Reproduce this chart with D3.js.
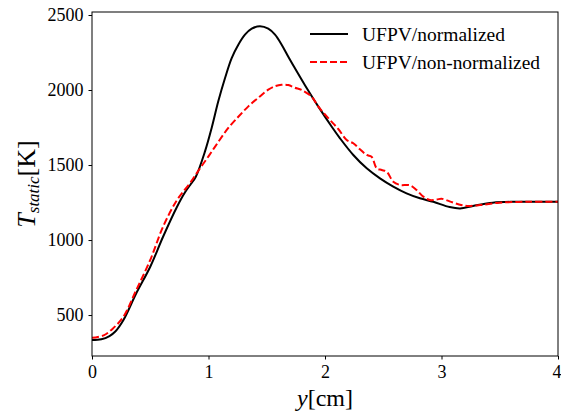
<!DOCTYPE html>
<html><head><meta charset="utf-8">
<script src="https://cdn.jsdelivr.net/npm/d3@7"></script>
<style>
html,body{margin:0;padding:0;background:#fff;}
svg{display:block;}
text{font-family:"Liberation Serif","Times New Roman",serif;fill:#000;}
</style></head>
<body>
<svg id="chart" width="561" height="414"></svg>
<script>
// ---- data ----
const normX = [0,0.08,0.15,0.2,0.27,0.38,0.5,0.61,0.73,0.8,0.85,0.89,0.97,1.027,1.084,1.142,1.199,1.256,1.313,1.371,1.442,1.513,1.571,1.628,1.685,1.742,1.8,1.828,1.943,2.058,2.129,2.243,2.358,2.472,2.586,2.70,2.815,2.93,3.07,3.16,3.27,3.44,3.63,4.0];
const normT = [333,338,360,390,467,645,822,1022,1222,1320,1375,1420,1591,1747,1925,2080,2213,2302,2369,2409,2425,2409,2369,2302,2222,2145,2068,2032,1889,1755,1678,1567,1478,1411,1356,1311,1278,1255,1220,1211,1227,1249,1255,1255];
const nonX = [0,0.1,0.18,0.27,0.38,0.5,0.61,0.73,0.84,0.92,1.0,1.085,1.17,1.26,1.342,1.43,1.513,1.57,1.628,1.685,1.742,1.8,1.886,1.943,2.03,2.114,2.186,2.243,2.30,2.358,2.40,2.444,2.487,2.53,2.586,2.644,2.73,2.787,2.844,2.90,2.96,3.0,3.07,3.15,3.22,3.33,3.5,3.75,4.0];
const nonT = [348,365,411,489,667,867,1089,1267,1378,1470,1558,1655,1747,1825,1891,1950,2002,2025,2035,2033,2015,2000,1955,1889,1811,1740,1667,1645,1605,1567,1555,1478,1467,1455,1389,1367,1365,1333,1289,1267,1270,1275,1258,1237,1227,1233,1249,1255,1255];
const xTicks = [0,1,2,3,4];
const yTicks = [500,1000,1500,2000,2500];
const seriesNames = ["UFPV/normalized","UFPV/non-normalized"];

// ---- layout ----
const L=92, R=558, T=12, B=356;
const svg = d3.select("#chart");
const x = d3.scaleLinear().domain([0,4]).range([L,R]);
const y = d3.scaleLinear().domain([227,2520]).range([B,T]);

const line = d3.line().x(d=>x(d[0])).y(d=>y(d[1])).curve(d3.curveCatmullRom.alpha(0.5));

svg.append("clipPath").attr("id","c").append("rect").attr("x",L).attr("y",T).attr("width",R-L).attr("height",B-T);
const g = svg.append("g").attr("clip-path","url(#c)");

g.append("path").datum(normX.map((v,i)=>[v,normT[i]]))
  .attr("d",line).attr("fill","none").attr("stroke","#000").attr("stroke-width",2);
g.append("path").datum(nonX.map((v,i)=>[v,nonT[i]]))
  .attr("d",line).attr("fill","none").attr("stroke","#ff0000").attr("stroke-width",2)
  .attr("stroke-dasharray","7,3");

// axes
const xAxis = d3.axisBottom(x).tickValues(xTicks).tickSize(3.5).tickPadding(6).tickFormat(d3.format("d"));
const yAxis = d3.axisLeft(y).tickValues(yTicks).tickSize(3.5).tickPadding(5).tickFormat(d3.format("d"));
const gx = svg.append("g").attr("transform",`translate(0,${B})`).call(xAxis);
const gy = svg.append("g").attr("transform",`translate(${L},0)`).call(yAxis);
[gx,gy].forEach(a=>{
  a.select(".domain").remove();
  a.selectAll("line").attr("stroke","#000").attr("stroke-width",1);
  a.selectAll("text").style("font-family","'Liberation Serif',serif").style("font-size","18px");
});
gx.selectAll("text").filter(d=>d===4).attr("dx",-1.5);
// frame
svg.append("rect").attr("x",L).attr("y",T).attr("width",R-L).attr("height",B-T)
  .attr("fill","none").attr("stroke","#000").attr("stroke-width",1);

// axis labels
const xl = svg.append("text").attr("x",(L+R)/2).attr("y",406).attr("text-anchor","middle").style("font-size","24px");
xl.append("tspan").style("font-style","italic").text("y");
xl.append("tspan").text("[cm]");

const yl = svg.append("text").attr("transform",`translate(35,${(T+B)/2}) rotate(-90)`).attr("text-anchor","middle").style("font-size","26px");
yl.append("tspan").style("font-style","italic").text("T");
yl.append("tspan").style("font-style","italic").style("font-size","17px").attr("dy",4).text("static");
yl.append("tspan").attr("dy",-4).text("[K]");

// legend
const leg = [{name:seriesNames[0],color:"#000",dash:null,y:34},{name:seriesNames[1],color:"#ff0000",dash:"7,3",y:62}];
const lw=[143,178];
leg.forEach((d,i)=>{
  svg.append("line").attr("x1",310).attr("x2",348).attr("y1",d.y).attr("y2",d.y)
    .attr("stroke",d.color).attr("stroke-width",2).attr("stroke-dasharray",d.dash);
  svg.append("text").attr("x",362).attr("y",d.y+6.5).style("font-size","18px")
    .attr("textLength",lw[i]).attr("lengthAdjust","spacingAndGlyphs").text(d.name);
});
</script>
</body></html>
